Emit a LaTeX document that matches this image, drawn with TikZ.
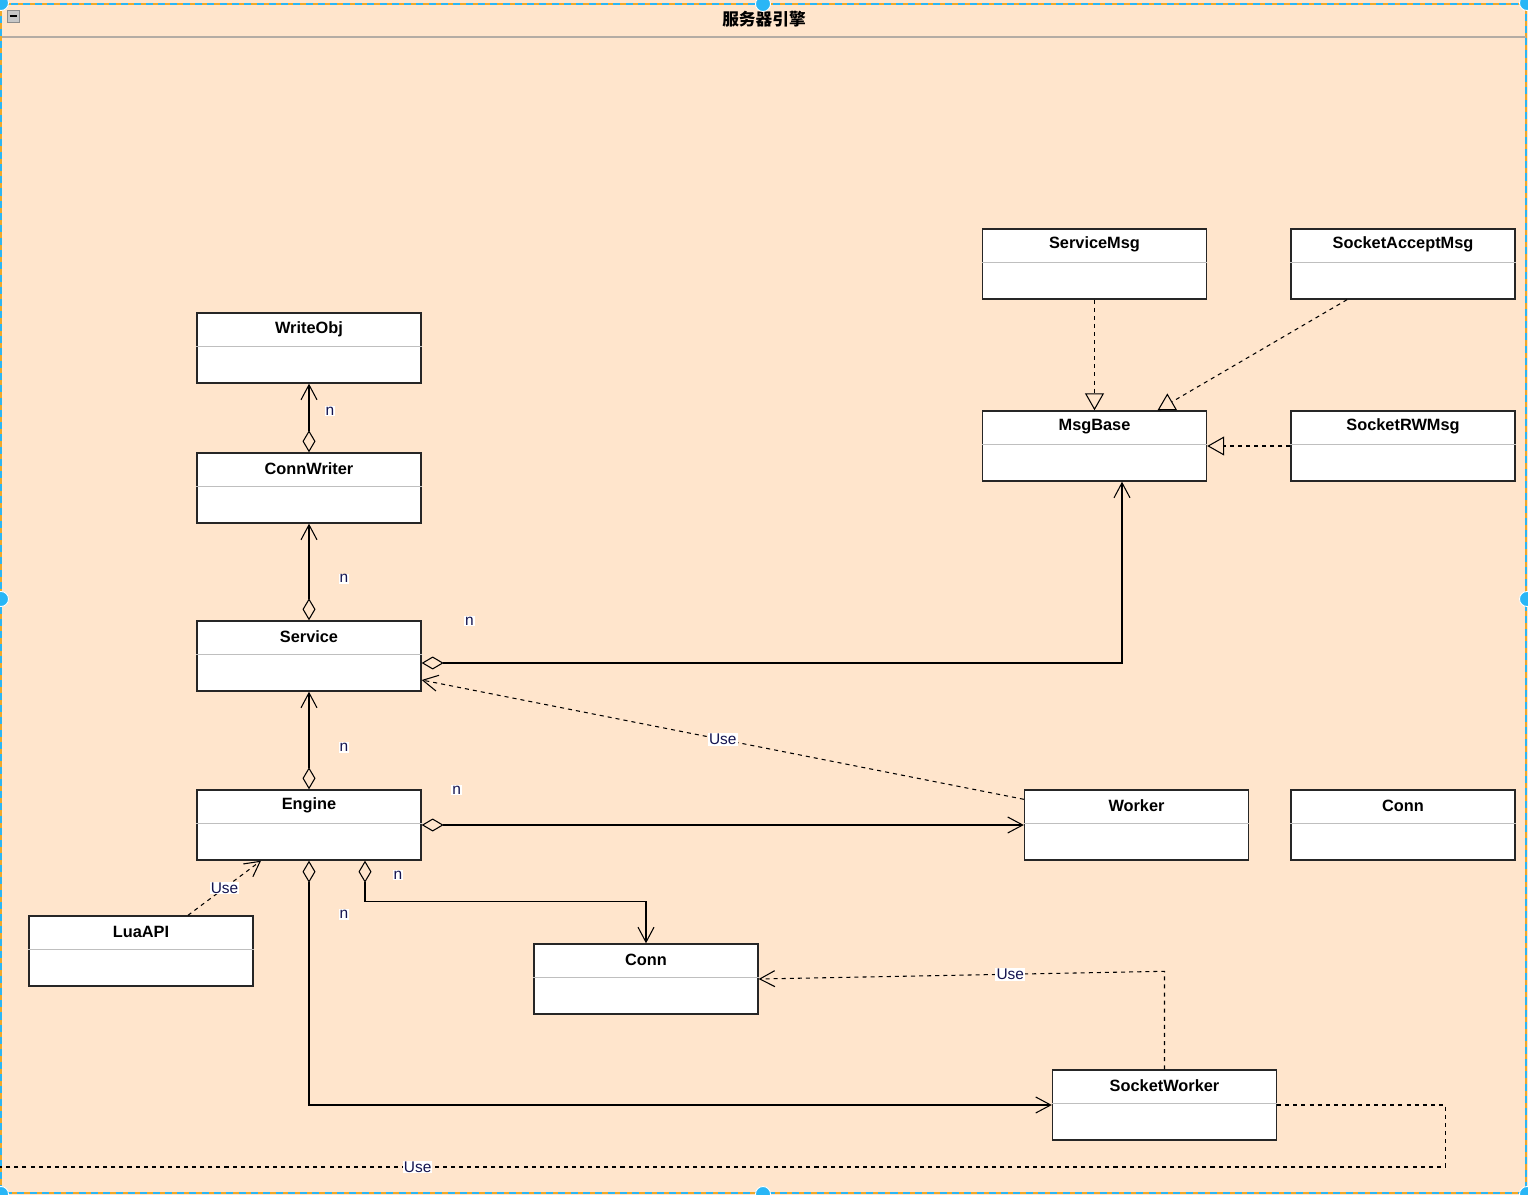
\documentclass[tikz,border=0pt]{standalone}
\usepackage{fontspec}
\setmainfont{Liberation Sans}
\newfontfamily\cjk{Noto Sans CJK SC}
\usetikzlibrary{arrows.meta,calc}
\definecolor{Peach}{RGB}{255,229,204}
\definecolor{Handle}{RGB}{41,182,246}
\definecolor{Frame}{RGB}{240,168,40}
\definecolor{Ink}{RGB}{20,20,80}
\definecolor{Rule}{RGB}{180,172,164}

% class box: name, centre, title
\newcommand\umlclass[3]{%
  \node[cls] (#1) at (#2) {};
  \node[ttl] at ($(#1.north)+(0,16.5)$) {#3};
  \draw[sep] ($(#1.north west)+(0,34)$) -- ($(#1.north east)+(0,34)$);}

\begin{document}
\begin{tikzpicture}[x=0.02cm,y=-0.02cm,
 cls/.style={draw=black!85,fill=white,line width=.8pt,minimum width=4.48cm,minimum height=1.4cm,inner sep=0pt},
 ttl/.style={font=\fontsize{9.3}{11}\selectfont\bfseries},
 sep/.style={draw=black!25,line width=.6pt},
 lbl/.style={fill=white,inner sep=.6pt,text=Ink,font=\fontsize{8.8}{10}\selectfont},
 dsh/.style={dash pattern=on 2.3pt off 2.3pt},
 agg/.style={{Diamond[open,length=.44cm,width=.26cm]}-{Straight Barb[length=.3cm,width=.32cm]},line width=.6pt},
 dep/.style={-{Straight Barb[length=.3cm,width=.32cm]},dsh,line width=.6pt},
 gen/.style={-{Triangle[open,length=.34cm,width=.38cm]},dsh,line width=.6pt}]
\useasboundingbox (0,0) rectangle (1528,1195);
% frame
\fill[Peach] (0,0) rectangle (1528,1195);
\draw[Frame,line width=.8pt] (1,4) rectangle (1526,1193);
\draw[Handle,line width=.8pt,dash pattern=on 4pt off 3pt] (1,4) rectangle (1526,1193);
\draw[Rule,line width=.6pt] (2,37) -- (1526,37);
\draw[black!45,fill=black!22] (7,10) rectangle (19,22);
\draw[line width=1.2pt] (9.5,16) -- (16.5,16);
\node[font=\cjk\bfseries\fontsize{9.5}{11}\selectfont] (title) at (764,19) {服务器引擎};

% classes
\umlclass{writeobj}{309,348}{WriteObj}
\umlclass{connwriter}{309,488}{ConnWriter}
\umlclass{service}{309,656}{Service}
\umlclass{engine}{309,825}{Engine}
\umlclass{luaapi}{141,951}{LuaAPI}
\umlclass{conn}{646,979}{Conn}
\umlclass{sockworker}{1164.5,1105}{SocketWorker}
\umlclass{worker}{1136.5,825}{Worker}
\umlclass{conntwo}{1403,825}{Conn}
\umlclass{servicemsg}{1094.5,264}{ServiceMsg}
\umlclass{sockaccept}{1403,264}{SocketAcceptMsg}
\umlclass{msgbase}{1094.5,446}{MsgBase}
\umlclass{sockrw}{1403,446}{SocketRWMsg}

% aggregations
\draw[agg] (connwriter) -- (writeobj) node[lbl,pos=.6,xshift=.42cm] {n};
\draw[agg] (service) -- (connwriter) node[lbl,pos=.43,xshift=.7cm] {n};
\draw[agg] (engine) -- (service) node[lbl,pos=.43,xshift=.7cm] {n};
\draw[agg] ($(service.east)+(0,7)$) -| ($(msgbase.south)+(27.5,0)$) node[lbl,pos=.034,yshift=.84cm] {n};
\draw[agg] (engine) -- (worker) node[lbl,pos=.058,yshift=.7cm] {n};
\draw[agg] ($(engine.south)+(56,0)$) -- ++(0,41) node[lbl,pos=.35,xshift=.66cm] {n} -| (conn.north);
\draw[agg] (engine.south) |- (sockworker.west) node[lbl,pos=.11,xshift=.7cm] {n};

% uses
\draw[dep] ($(worker.north west)+(0,10)$) -- ($(service.east)+(0,24)$) node[lbl,midway] {Use};
\draw[dep] ($(luaapi.north)+(47,0)$) -- ($(engine.south)+(-48,0)$) node[lbl,midway] {Use};
\draw[dep] (sockworker.north) -- ++(0,-98) -- (conn.east) node[lbl,pos=.38] {Use};
\coordinate (offleft) at (0,1167);
\draw[dsh,line width=.6pt] (sockworker.east) -- ++(168,0) -- ++(0,62) -- (offleft) node[lbl,pos=.711] {Use};

% messages
\draw[gen] (servicemsg) -- (msgbase);
\draw[gen] ($(sockaccept.south)+(-56,0)$) -- ($(msgbase.north)+(63,0)$);
\draw[gen] (sockrw) -- (msgbase);

% handles
\foreach \p in {(1,3),(763,4),(1527,3),(1,599),(1527,599),(1,1194),(763,1194),(1527,1194)}
  \filldraw[fill=Handle,draw=white,line width=.5pt] \p circle[radius=.15cm];
\end{tikzpicture}
\end{document}
